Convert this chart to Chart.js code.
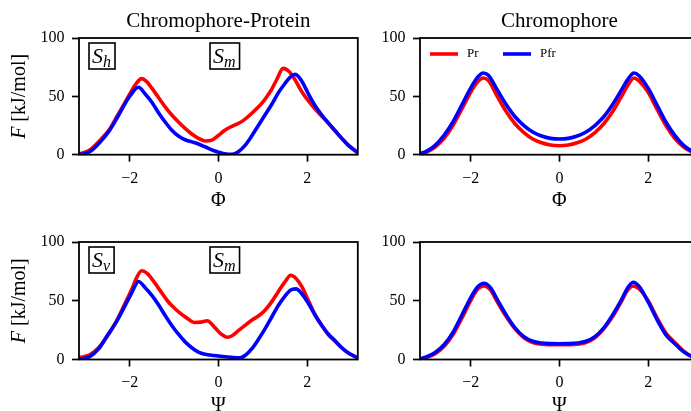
<!DOCTYPE html>
<html><head><meta charset="utf-8">
<script src="https://cdn.jsdelivr.net/npm/chart.js@4.4.0/dist/chart.umd.min.js"></script>
<style>
html,body{margin:0;padding:0;background:#fff;}
body{width:691px;height:411px;overflow:hidden;position:relative;}
canvas{position:absolute;}
</style></head><body>
<canvas id="c1" width="370" height="220" style="left:0px;top:0px;width:370px;height:220px"></canvas>
<canvas id="c2" width="370" height="220" style="left:341px;top:0px;width:370px;height:220px"></canvas>
<canvas id="c3" width="370" height="220" style="left:0px;top:204px;width:370px;height:220px"></canvas>
<canvas id="c4" width="370" height="220" style="left:341px;top:204px;width:370px;height:220px"></canvas>
<script>
// ---------- data ----------
const xTicks = [-2, 0, 2];
const yTicks = [0, 50, 100];
const seriesNames = ['Pr', 'Pfr'];
const panelTitles = ['Chromophore-Protein', 'Chromophore'];
const xLabels = ['Φ', 'Ψ'];

// Chromophore-Protein, Phi
const cpPhiPrX = [-3.14,-2.9,-2.66,-2.45,-2.29,-2.1,-1.99,-1.87,-1.73,-1.6,-1.5,-1.35,-1.2,-1.05,-0.9,-0.75,-0.6,-0.45,-0.3,-0.15,0,0.13,0.26,0.4,0.55,0.79,1.0,1.09,1.2,1.31,1.46,1.6,1.73,1.88,2.03,2.18,2.33,2.48,2.63,2.78,2.93,3.14];
const cpPhiPrY = [0.5,4,12.6,22,32.6,45,52.6,60,65.2,62,57,49,41,34,28,22.5,17.7,14,11.8,12.5,16.5,20.5,23.5,26,29,36.8,45,49.7,56,64,74,71,64,54,46,39,33,27,20.5,14,8,1.5];
const cpPhiPfrX = [-3.14,-2.9,-2.66,-2.45,-2.29,-2.1,-1.99,-1.8,-1.65,-1.5,-1.35,-1.2,-1.05,-0.9,-0.75,-0.6,-0.45,-0.3,-0.15,0,0.1,0.23,0.35,0.45,0.6,0.75,0.9,1.05,1.2,1.35,1.5,1.62,1.73,1.88,2.03,2.18,2.33,2.48,2.63,2.78,2.93,3.14];
const cpPhiPfrY = [0,2.5,11,21,31,44,50.5,57.8,52,45,36,28,21,16,12.8,11,9.2,6.8,4.2,2.2,1,0.3,0.6,2.5,8,16,25,34,43,53,61,66.5,68.8,63,52,42,34,27,20.5,14,8,2];

// Chromophore, Phi
const chPhiX = [-3.14,-3.0,-2.8,-2.6,-2.4,-2.2,-2.0,-1.85,-1.72,-1.6,-1.4,-1.2,-1.0,-0.8,-0.6,-0.4,-0.2,0,0.2,0.4,0.6,0.8,1.0,1.2,1.4,1.55,1.68,1.8,2.0,2.2,2.4,2.6,2.8,3.0,3.14];
const chPhiPrY = [0.5,2,6.5,14,25,39,53.5,62,65.7,63.5,50,37,26.5,19,13.5,10.3,8.3,7.7,8.3,10.3,13.5,19,26.5,37,50,60,65.7,63,53.5,39,25,14,6.5,2,0.5];
const chPhiPfrY = [0.8,2.8,8,16.5,28,42.5,57,66,70,68,55.5,43,32.5,25,19.5,16,14,13.4,14,16,19.5,25,32.5,43,55.5,65,70,67.5,57,42.5,28,16.5,8,2.8,0.8];

// Chromophore-Protein, Psi
const cpPsiPrX = [-3.14,-2.9,-2.7,-2.5,-2.3,-2.1,-1.95,-1.85,-1.73,-1.6,-1.45,-1.3,-1.15,-1.0,-0.85,-0.7,-0.55,-0.4,-0.25,-0.1,0.05,0.2,0.3,0.45,0.6,0.75,0.9,1.05,1.2,1.35,1.5,1.63,1.75,1.88,2.03,2.18,2.33,2.48,2.63,2.78,2.93,3.14];
const cpPsiPrY = [1.5,4,10,20,32.5,48,60,69,75.5,73,66,58,50,44,39,35,31.5,31.8,33,28,22,19,20,24.5,29,33.4,37,42,49,57.7,66,71.7,69,62,50,38,29,21,15.5,10,5.5,1.5];
const cpPsiPfrX = [-3.14,-2.9,-2.7,-2.5,-2.3,-2.1,-1.95,-1.8,-1.65,-1.5,-1.35,-1.2,-1.05,-0.9,-0.75,-0.6,-0.45,-0.3,-0.1,0.1,0.3,0.49,0.62,0.75,0.9,1.05,1.2,1.35,1.5,1.62,1.75,1.88,2.03,2.18,2.33,2.48,2.63,2.78,2.93,3.14];
const cpPsiPfrY = [0,2.5,9,20.6,32,46,57,66.4,61,54.5,46.5,37.5,29,21.5,15,10,6.3,4.5,3.4,2.5,1.8,1.4,4,9,17,26,36,46,54,59,60.1,56,47.7,37.7,29,21.5,16,10,5.5,1.5];

// Chromophore, Psi
const chPsiX = [-3.14,-3.0,-2.8,-2.6,-2.4,-2.2,-2.0,-1.85,-1.7,-1.55,-1.4,-1.2,-1.0,-0.8,-0.6,-0.4,-0.2,0,0.2,0.4,0.6,0.8,1.0,1.2,1.4,1.53,1.66,1.8,2.0,2.2,2.4,2.6,2.8,3.0,3.14];
const chPsiPrY = [0.3,1.6,5,11,21,35,50,59.5,62.6,59,49,36.5,26,18.5,14.5,13,12.6,12.5,12.6,13,14.5,18.5,26,36.5,49.5,58.5,62.6,60,50,35.5,22.5,14.5,7.2,2.5,0.8];
const chPsiPfrY = [0.5,2.2,6,12.5,23,37.7,52.5,61.5,64.9,61,51,38,27,19.5,15.5,14,13.5,13.4,13.5,14,15.5,19.5,27,38,51,60.5,65.7,62,49,34,21,13.4,6.5,2.2,0.5];

// ---------- drawing ----------
const SERIF = "'Liberation Serif', 'Times New Roman', serif";
const RED = '#ff0000', BLUE = '#0000ff';
const pts = (xs, ys) => xs.map((x, i) => ({x: x, y: ys[i]}));
const fmt = v => (v < 0 ? '\u2212' + Math.abs(v) : String(v));

const decor = {
  id: 'decor',
  afterDatasetsDraw(chart, args, o) {
    const ctx = chart.ctx, a = chart.chartArea;
    ctx.save();
    ctx.strokeStyle = '#000';
    ctx.lineWidth = 1.8;
    ctx.strokeRect(a.left, a.top, a.right - a.left, a.bottom - a.top);
    // annotation boxes
    (o.boxes || []).forEach(b => {
      ctx.font = 'italic 22px ' + SERIF;
      const sw = ctx.measureText('S').width;
      ctx.font = 'italic 16px ' + SERIF;
      const bw = ctx.measureText(b.sub).width;
      const x = a.left + b.dx, y = a.top + 5, w = 4 + sw + bw + 3, h = 26;
      ctx.fillStyle = '#fff';
      ctx.fillRect(x, y, w, h);
      ctx.lineWidth = 1.6;
      ctx.strokeRect(x, y, w, h);
      ctx.fillStyle = '#000';
      ctx.textAlign = 'left';
      ctx.textBaseline = 'alphabetic';
      ctx.font = 'italic 22px ' + SERIF;
      ctx.fillText('S', x + 3, y + 20);
      ctx.font = 'italic 16px ' + SERIF;
      ctx.fillText(b.sub, x + 3 + sw, y + 23.5);
    });
    // legend
    if (o.legend) {
      const ly = a.top + 16;
      const items = [[seriesNames[0], RED, 10], [seriesNames[1], BLUE, 83]];
      items.forEach(([t, c, dx]) => {
        ctx.strokeStyle = c;
        ctx.lineWidth = 3.6;
        ctx.beginPath();
        ctx.moveTo(a.left + dx, ly);
        ctx.lineTo(a.left + dx + 28, ly);
        ctx.stroke();
        ctx.fillStyle = '#000';
        ctx.font = '13px ' + SERIF;
        ctx.textAlign = 'left';
        ctx.textBaseline = 'middle';
        ctx.fillText(t, a.left + dx + 37, ly);
      });
    }
    // panel title
    if (o.title) {
      ctx.fillStyle = '#000';
      ctx.font = '21px ' + SERIF;
      ctx.textAlign = 'center';
      ctx.textBaseline = 'alphabetic';
      ctx.fillText(o.title, (a.left + a.right) / 2, 26.5);
    }
    // y label with italic F
    if (o.ylabel) {
      const cy = (a.top + a.bottom) / 2;
      ctx.translate(20, cy);
      ctx.rotate(-Math.PI / 2);
      ctx.fillStyle = '#000';
      ctx.textBaseline = 'middle';
      ctx.textAlign = 'left';
      ctx.font = 'italic 20px ' + SERIF;
      const w1 = ctx.measureText('F').width;
      ctx.font = '20px ' + SERIF;
      const rest = ' [kJ/mol]';
      const w2 = ctx.measureText(rest).width;
      const x0 = -(w1 + w2) / 2;
      ctx.font = 'italic 20px ' + SERIF;
      ctx.fillText('F', x0, 0);
      ctx.font = '20px ' + SERIF;
      ctx.fillText(rest, x0 + w1, 0);
    }
    ctx.restore();
  }
};

function makeChart(id, prPts, pfrPts, p) {
  const gridOpts = {display: true, drawOnChartArea: false, drawTicks: true, tickLength: 7,
                    tickWidth: 1.7, tickColor: '#000', color: '#000'};
  return new Chart(document.getElementById(id), {
    type: 'line',
    data: {
      datasets: [
        {label: seriesNames[0], data: prPts, borderColor: RED, borderWidth: 3.6, pointRadius: 0,
         fill: false, cubicInterpolationMode: 'monotone', order: 1},
        {label: seriesNames[1], data: pfrPts, borderColor: BLUE, borderWidth: 3.6, pointRadius: 0,
         fill: false, cubicInterpolationMode: 'monotone', order: 0}
      ]
    },
    options: {
      responsive: false,
      animation: false,
      devicePixelRatio: 1,
      layout: {padding: {left: 8, right: 12.2, top: 38, bottom: p.padBottom}},
      plugins: {
        legend: {display: false},
        tooltip: {enabled: false},
        decor: {title: p.title, legend: p.legend, ylabel: p.ylabel, boxes: p.boxes}
      },
      scales: {
        x: {
          type: 'linear', min: -Math.PI, max: Math.PI,
          afterBuildTicks: s => { s.ticks = xTicks.map(v => ({value: v})); },
          afterFit: s => { s.height = 58.3; },
          grid: gridOpts,
          border: {display: false},
          ticks: {color: '#000', font: {family: SERIF, size: 16}, padding: 7, maxRotation: 0,
                  autoSkip: false, callback: v => fmt(v)},
          title: {display: true, text: p.xlabel, color: '#000', font: {family: SERIF, size: 20}, padding: 0}
        },
        y: {
          min: 0, max: 100,
          afterBuildTicks: s => { s.ticks = yTicks.map(v => ({value: v})); },
          afterFit: s => { s.width = 71; },
          grid: gridOpts,
          border: {display: false},
          ticks: {color: '#000', font: {family: SERIF, size: 16}, padding: 7.5, autoSkip: false,
                  callback: v => String(v)}
        }
      }
    },
    plugins: [decor]
  });
}

makeChart('c1', pts(cpPhiPrX, cpPhiPrY), pts(cpPhiPfrX, cpPhiPfrY),
  {title: panelTitles[0], xlabel: xLabels[0], ylabel: true, legend: false, padBottom: 7,
   boxes: [{sub: 'h', dx: 10}, {sub: 'm', dx: 131}]});
makeChart('c2', pts(chPhiX, chPhiPrY), pts(chPhiX, chPhiPfrY),
  {title: panelTitles[1], xlabel: xLabels[0], ylabel: false, legend: true, padBottom: 7, boxes: []});
makeChart('c3', pts(cpPsiPrX, cpPsiPrY), pts(cpPsiPfrX, cpPsiPfrY),
  {title: null, xlabel: xLabels[1], ylabel: true, legend: false, padBottom: 6.2,
   boxes: [{sub: 'v', dx: 10}, {sub: 'm', dx: 131}]});
makeChart('c4', pts(chPsiX, chPsiPrY), pts(chPsiX, chPsiPfrY),
  {title: null, xlabel: xLabels[1], ylabel: false, legend: false, padBottom: 6.2, boxes: []});
</script></body></html>
